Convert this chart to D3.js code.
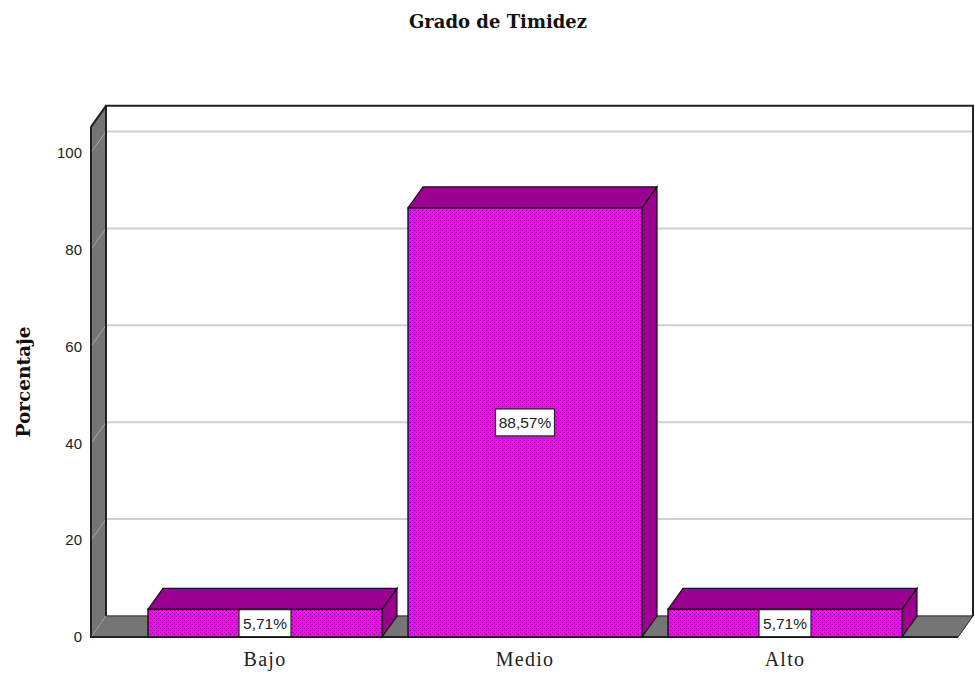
<!DOCTYPE html>
<html><head><meta charset="utf-8">
<script src="https://cdnjs.cloudflare.com/ajax/libs/d3/7.8.5/d3.min.js"></script>
<style>html,body{margin:0;padding:0;background:#fff}svg{display:block}</style></head>
<body><svg id="c" width="975" height="675"></svg>
<script>
const categories = ["Bajo","Medio","Alto"];
const percentages = [5.71,88.57,5.71];
const valueLabels = ["5,71%","88,57%","5,71%"];
const yTicks = [0,20,40,60,80,100];
const yTop = 105.3;

const depthX = 15, depthY = -21;
const svg = d3.select("#c");
const y = d3.scaleLinear().domain([0,100]).range([637,152.5]);
const x = d3.scaleBand().domain(categories).range([148,902]).paddingInner(0.1).paddingOuter(0);
const frontL = 91, frontR = 958, y0 = y(0), yT = y(yTop);
const poly = pts => pts.map(p=>p.join(",")).join(" ");
const grayWall = "#757575", ink = "#111";

const defs = svg.append("defs");
const pat = defs.append("pattern").attr("id","dots").attr("width",4).attr("height",4).attr("patternUnits","userSpaceOnUse");
pat.append("rect").attr("width",4).attr("height",4).attr("fill","#ff00ff");
[[0,0],[2,2]].forEach(d=>pat.append("rect").attr("x",d[0]).attr("y",d[1]).attr("width",1).attr("height",1).attr("fill","#900090"));

svg.append("polygon").attr("points",poly([[frontL,yT],[frontL+depthX,yT+depthY],[frontL+depthX,y0+depthY],[frontL,y0]])).attr("fill",grayWall).attr("stroke",ink).attr("stroke-width",1);
svg.append("polygon").attr("points",poly([[frontL,y0],[frontL+depthX,y0+depthY],[frontR+depthX,y0+depthY],[frontR,y0]])).attr("fill",grayWall).attr("stroke",grayWall).attr("stroke-width",1);

const gridTicks = yTicks.filter(d=>d>0);
svg.append("g").selectAll("line").data(yTicks).join("line")
  .attr("x1",frontL).attr("y1",d=>y(d)).attr("x2",frontL+depthX).attr("y2",d=>y(d)+depthY)
  .attr("stroke","#a8a8a8").attr("stroke-width",1);
svg.append("g").selectAll("line").data(gridTicks).join("line")
  .attr("x1",frontL+depthX).attr("y1",d=>y(d)+depthY).attr("x2",frontR+depthX).attr("y2",d=>y(d)+depthY)
  .attr("stroke","#cfcfcf").attr("stroke-width",2);

const frame = "#222";
svg.append("path").attr("d",`M${frontL+depthX},${y0+depthY}V${yT+depthY}H${frontR+depthX}V${y0+depthY}`).attr("fill","none").attr("stroke",frame).attr("stroke-width",2);
svg.append("path").attr("d",`M${frontL+depthX},${y0+depthY}H${frontR+depthX}L${frontR},${y0}`).attr("fill","none").attr("stroke","#333").attr("stroke-width",1);
svg.append("path").attr("d",`M${frontL},${yT}L${frontL+depthX},${yT+depthY}`).attr("fill","none").attr("stroke",frame).attr("stroke-width",2);
svg.append("path").attr("d",`M${frontL},${yT}V${y0}H${frontR}`).attr("fill","none").attr("stroke",frame).attr("stroke-width",2);

const bars = svg.append("g").selectAll("g").data(categories.map((c,i)=>({c,v:percentages[i],t:valueLabels[i]}))).join("g");
bars.append("polygon").attr("points",d=>{const l=x(d.c),r=l+x.bandwidth(),t=y(d.v);return poly([[l,t],[l+depthX,t+depthY],[r+depthX,t+depthY],[r,t]]);})
  .attr("fill","#9c0090").attr("stroke","#111").attr("stroke-width",1.2);
bars.append("polygon").attr("points",d=>{const r=x(d.c)+x.bandwidth(),t=y(d.v);return poly([[r,t],[r+depthX,t+depthY],[r+depthX,y0+depthY],[r,y0]]);})
  .attr("fill","#9c0090").attr("stroke","#111").attr("stroke-width",1.2);
bars.append("rect").attr("x",d=>x(d.c)).attr("y",d=>y(d.v)).attr("width",x.bandwidth()).attr("height",d=>y0-y(d.v))
  .attr("fill","url(#dots)").attr("stroke","#111").attr("stroke-width",1.4);

bars.each(function(d){
  const g=d3.select(this), cx=x(d.c)+x.bandwidth()/2, cy=(y(d.v)+y0)/2;
  const w=d.t.length>5?59:52, h=Math.min(27,y0-y(d.v));
  g.append("rect").attr("x",cx-w/2).attr("y",cy-h/2).attr("width",w).attr("height",h).attr("fill","#fff").attr("stroke","#222").attr("stroke-width",1.2);
  g.append("text").attr("x",cx).attr("y",cy+5.5).attr("text-anchor","middle").attr("font-family","Liberation Sans").attr("font-size",15.5).attr("fill","#222").text(d.t);
});

const yAxis = d3.axisLeft(y).tickValues(yTicks).tickSize(0).tickPadding(9).tickFormat(d3.format("d"));
const ga = svg.append("g").attr("transform",`translate(${frontL},0)`).call(yAxis);
ga.select(".domain").remove();
ga.selectAll("text").attr("font-family","Liberation Sans").attr("font-size",15).attr("fill","#222");

const xAxis = d3.axisBottom(x).tickSize(0).tickPadding(15);
const gx = svg.append("g").attr("transform",`translate(0,${y0})`).call(xAxis);
gx.select(".domain").remove();
gx.selectAll("text").attr("font-family","Liberation Serif").attr("font-size",20).attr("letter-spacing",1.3).attr("fill","#222");

svg.append("text").attr("x",498).attr("y",28).attr("text-anchor","middle").attr("font-family","DejaVu Serif").attr("font-weight","bold").attr("font-size",18).attr("fill","#111").text("Grado de Timidez");
svg.append("text").attr("transform","translate(30,382) rotate(-90)").attr("text-anchor","middle").attr("font-family","DejaVu Serif").attr("font-weight","bold").attr("font-size",18.5).attr("fill","#111").text("Porcentaje");
</script></body></html>
